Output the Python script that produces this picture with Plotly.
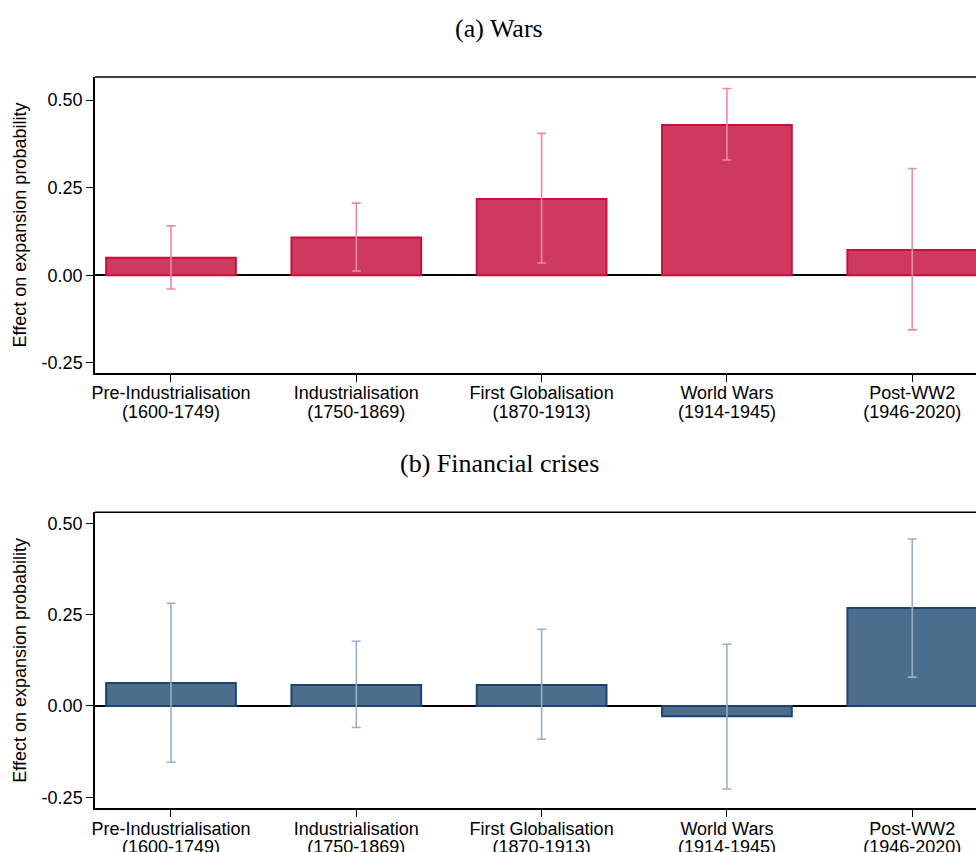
import plotly.graph_objects as go

periods = ["Pre-Industrialisation", "Industrialisation", "First Globalisation",
           "World Wars", "Post-WW2"]
years = ["(1600-1749)", "(1750-1869)", "(1870-1913)", "(1914-1945)", "(1946-2020)"]

wars_effect = [0.050, 0.108, 0.218, 0.429, 0.072]
wars_ci_low = [-0.039, 0.012, 0.035, 0.329, -0.156]
wars_ci_high = [0.141, 0.206, 0.405, 0.533, 0.305]

fin_effect = [0.063, 0.0575, 0.0575, -0.028, 0.268]
fin_ci_low = [-0.154, -0.059, -0.091, -0.227, 0.079]
fin_ci_high = [0.281, 0.177, 0.210, 0.169, 0.457]

y_ticks = [-0.25, 0.0, 0.25, 0.5]
y_ticktext = ["-0.25", "0.00", "0.25", "0.50"]

W, H = 976, 852
L = 95

fig = go.Figure()
xpos = list(range(len(periods)))

def add_panel(eff, lo, hi, xa, ya, fill, edge, err):
    fig.add_trace(go.Bar(
        x=xpos, y=eff, xaxis=xa, yaxis=ya, width=0.7,
        marker=dict(color=fill, line=dict(color=edge, width=2)),
        error_y=dict(type="data", symmetric=False,
                     array=[h - e for h, e in zip(hi, eff)],
                     arrayminus=[e - l for l, e in zip(lo, eff)],
                     color=err, thickness=1.6, width=4.5),
        showlegend=False, hoverinfo="skip"))

add_panel(wars_effect, wars_ci_low, wars_ci_high, "x", "y",
          "rgb(206,58,94)", "rgb(200,16,62)", "rgb(234,140,163)")
add_panel(fin_effect, fin_ci_low, fin_ci_high, "x2", "y2",
          "rgb(74,110,140)", "rgb(28,68,108)", "rgb(152,174,198)")

# empty helper traces so the overlaid "years" axes get drawn
for xa, ya in [("x3", "y"), ("x4", "y2")]:
    fig.add_trace(go.Scatter(x=xpos, y=[None] * len(xpos), xaxis=xa, yaxis=ya,
                             mode="markers", showlegend=False, hoverinfo="skip"))

def px2paper(py):
    return (H - py) / H

font_ax = dict(family="Liberation Sans, Arial, sans-serif", size=18, color="black")
XR = [-0.41, 4.344]

xcommon = dict(range=XR, tickmode="array", tickvals=xpos,
               ticktext=periods, ticks="outside", ticklen=7, tickwidth=1.2,
               tickcolor="black", showline=True, linecolor="black", linewidth=1.5,
               showgrid=False, zeroline=False, tickfont=font_ax, automargin=False,
               ticklabelstandoff=-4, fixedrange=True)
xyears = dict(range=XR, tickmode="array", tickvals=xpos, ticktext=years,
              ticks="", showline=False, showgrid=False, zeroline=False,
              tickfont=font_ax, automargin=False, side="bottom",
              ticklabelstandoff=26, fixedrange=True)
ycommon = dict(tickmode="array", tickvals=y_ticks, ticktext=y_ticktext,
               ticks="outside", ticklen=7, tickwidth=1.2, tickcolor="black",
               showline=True, linecolor="black", linewidth=1.5, showgrid=False,
               zeroline=True, zerolinecolor="black", zerolinewidth=1.5,
               tickfont=font_ax, automargin=False, fixedrange=True,
               title=dict(text="Effect on expansion probability", font=font_ax,
                          standoff=10))

fig.update_layout(
    template="none",
    width=W, height=H,
    margin=dict(l=L, r=0, t=0, b=0, pad=0),
    paper_bgcolor="white", plot_bgcolor="white",
    xaxis=dict(**xcommon, domain=[0, 1], anchor="y"),
    yaxis=dict(**ycommon, domain=[px2paper(373), px2paper(77)], range=[-0.279, 0.566], anchor="x"),
    xaxis2=dict(**xcommon, domain=[0, 1], anchor="y2"),
    yaxis2=dict(**ycommon, domain=[px2paper(808.3), px2paper(512.3)], range=[-0.280, 0.530], anchor="x2"),
    xaxis3=dict(**xyears, overlaying="x", anchor="y"),
    xaxis4=dict(**xyears, overlaying="x2", anchor="y2"),
)

# top border line for each panel (the right side is cut off in the reference)
for xd, yd in [("x domain", "y domain"), ("x2 domain", "y2 domain")]:
    fig.add_shape(type="line", xref=xd, yref=yd, x0=0, x1=1, y0=1, y1=1,
                  line=dict(color="black", width=1.5))

title_font = dict(family="Liberation Serif, Times New Roman, serif", size=26, color="black")
for txt, py in [("(a) Wars", 28), ("(b) Financial crises", 463)]:
    fig.add_annotation(text=txt, xref="paper", yref="paper",
                       x=(499 - L) / (W - L), y=px2paper(py),
                       xanchor="center", yanchor="middle", showarrow=False,
                       font=title_font)

fig.write_html("out.html", config={"displayModeBar": False},
               post_script="document.body.style.margin='0';")
